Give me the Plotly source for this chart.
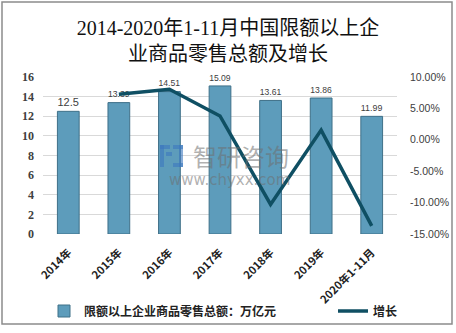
import plotly.graph_objects as go

# Chart data
categories = ["2014年", "2015年", "2016年", "2017年", "2018年", "2019年", "2020年1-11月"]
sales_total = [12.5, 13.39, 14.51, 15.09, 13.61, 13.86, 11.99]   # 万亿元
growth_years = ["2015年", "2016年", "2017年", "2018年", "2019年", "2020年1-11月"]
growth_pct = [7.25, 8.05, 3.8, -10.3, 1.55, -13.7]            # %

left_ticks = list(range(0, 17, 2))
right_ticks = [10, 5, 0, -5, -10, -15]
right_labels = [f"{v:.2f}%" for v in right_ticks]

W, H = 456, 333
L, R, T, B = 43, 59, 77, 99
pw, ph = W - L - R, H - T - B


def px_x(x):
    return (x - L) / pw


def px_y(y):
    return (H - B - y) / ph


fig = go.Figure()

fig.add_trace(go.Bar(
    x=categories, y=sales_total,
    name="限额以上企业商品零售总额：万亿元",
    marker=dict(color="#5d9cbb", line=dict(color="#3f7088", width=1)),
    width=0.43,
    text=[f"{v:g}" for v in sales_total],
    textposition="outside",
    textfont=dict(family="Liberation Sans, Arial", size=12, color="#404040"),
    cliponaxis=False,
    yaxis="y",
    legend="legend",
))

fig.add_trace(go.Scatter(
    x=growth_years, y=growth_pct,
    name="增长",
    mode="lines",
    line=dict(color="#0f4f63", width=3.5),
    yaxis="y2",
    legend="legend2",
))

# Outer frame of the chart area
fig.add_shape(type="rect", xref="paper", yref="paper",
              x0=px_x(2), x1=px_x(452), y0=px_y(324), y1=px_y(2),
              line=dict(color="#8c8c8c", width=1.5), fillcolor="rgba(0,0,0,0)",
              layer="below")

# Watermark
wm = "rgba(110,110,110,0.55)"
fig.add_annotation(text="智研咨询", xref="paper", yref="paper",
                   x=px_x(241), y=px_y(155), showarrow=False,
                   font=dict(family="Noto Sans CJK SC", size=24, color=wm))
fig.add_annotation(text="www.chyxx.com", xref="paper", yref="paper",
                   x=px_x(229), y=px_y(180), showarrow=False,
                   font=dict(family="DejaVu Sans", size=15, color=wm))
logo = "rgba(60,120,190,0.6)"
for (x0, y0, x1, y1) in [(160, 145, 170, 149), (160, 145, 164, 167),
                         (166, 152, 172, 156), (173, 145, 183, 149),
                         (179, 145, 183, 167), (173, 163, 183, 167)]:
    fig.add_shape(type="rect", xref="paper", yref="paper",
                  x0=px_x(x0), x1=px_x(x1), y0=px_y(y1), y1=px_y(y0),
                  line=dict(width=0), fillcolor=logo, layer="above")

legend_font = dict(family="Noto Sans CJK SC", size=12, color="#222222", weight="bold")

fig.update_layout(
    width=W, height=H,
    margin=dict(l=L, r=R, t=T, b=B, autoexpand=False),
    paper_bgcolor="white", plot_bgcolor="white",
    title=dict(
        text="2014-2020年1-11月中国限额以上企<br>业商品零售总额及增长",
        x=0.5, xref="container", xanchor="center",
        y=1 - 35 / H, yref="container", yanchor="top",
        font=dict(family="Liberation Serif, Noto Sans CJK SC", size=20, color="#111111"),
    ),
    showlegend=True,
    legend=dict(
        orientation="h", xref="container", yref="container",
        x=44 / W, y=1 - 311 / H, xanchor="left", yanchor="middle",
        font=legend_font, itemwidth=30, bgcolor="rgba(0,0,0,0)",
    ),
    legend2=dict(
        orientation="h", xref="container", yref="container",
        x=333 / W, y=1 - 311 / H, xanchor="left", yanchor="middle",
        font=legend_font, itemwidth=30, bgcolor="rgba(0,0,0,0)",
    ),
    bargap=0.57,
    xaxis=dict(
        type="category", tickangle=-45, showgrid=False, showline=False,
        ticks="outside", ticklen=7, tickcolor="rgba(0,0,0,0)", automargin=False,
        tickfont=dict(family="Noto Sans CJK SC", size=11, color="#222222", weight="bold"),
    ),
    yaxis=dict(
        range=[0, 16], tickvals=left_ticks, showgrid=True, gridcolor="#d9d9d9",
        gridwidth=1, zeroline=False, showline=False, ticks="", automargin=False,
        tickfont=dict(family="Liberation Serif", size=12, color="#404040", weight="bold"),
        ticklabelstandoff=8,
    ),
    yaxis2=dict(
        range=[-15, 10], overlaying="y", side="right", showgrid=False,
        zeroline=False, showline=False, tickvals=right_ticks, ticktext=right_labels,
        automargin=False,
        tickfont=dict(family="Liberation Sans, Arial", size=10.5, color="#404040"),
        ticklabelstandoff=12,
    ),
)

fig.write_html("out.html")
